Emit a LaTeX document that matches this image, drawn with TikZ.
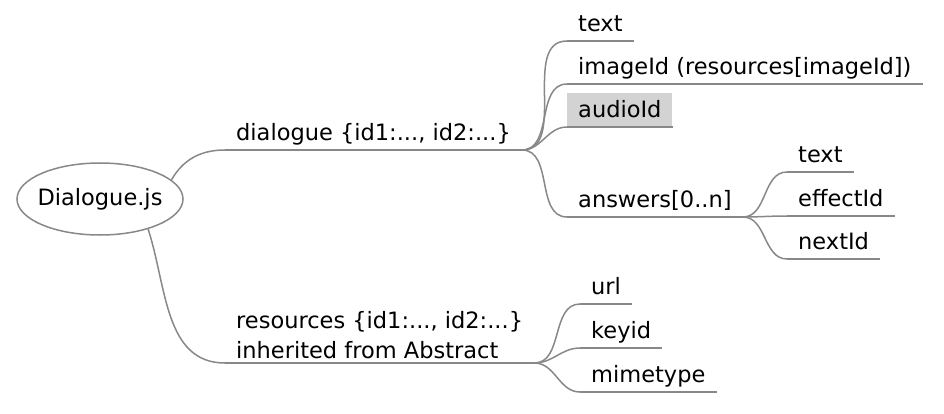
\documentclass[tikz,border=0pt]{standalone}
\usepackage{fontspec}
\setmainfont{DejaVu Sans}
\usetikzlibrary{shapes.geometric}
\definecolor{linegray}{HTML}{888888}
\definecolor{markgray}{HTML}{D3D3D3}
\tikzset{
  topic/.style={anchor=south west, inner xsep=11pt, inner ysep=4pt, text height=21pt, text depth=5pt},
  marked/.style={fill=markgray},
  link/.style={draw=linegray, line width=1.5pt},
}

\begin{document}
\begin{tikzpicture}[x=1pt, y=-1pt, font=\fontsize{22.5}{30}\selectfont]
				\useasboundingbox (0,0) rectangle (944,414);
				\node[ellipse, draw=linegray, line width=1.5pt, minimum width=166pt, minimum height=72pt, inner xsep=-4pt, inner ysep=0pt] (root) at (100,199) {Dialogue.js};
				
				\node[topic] (dlg) at (225,150) {dialogue \{id1:..., id2:...\}};
				\node[anchor=south west, inner xsep=11pt, inner ysep=4pt, align=left] (res) at (225,363) {resources \{id1:..., id2:...\} \\ inherited from Abstract};
				
				\node[topic] (txt) at (567,41) {text};
				\node[topic] (img) at (567,84) {imageId (resources[imageId])};
				\node[topic, marked] (aud) at (567,127) {audioId};
				\node[topic] (ans) at (567,217) {answers[0..n]};
				
				\node[topic] (atxt) at (787,172) {text};
				\node[topic] (eff) at (787,216) {effectId};
				\node[topic] (nxt) at (787,259) {nextId};
				
				\node[topic] (url) at (580,304) {url};
				\node[topic] (key) at (580,348) {keyid};
				\node[topic] (mime) at (580,392) {mimetype};
				
				\foreach \n in {dlg,res,txt,img,aud,ans,atxt,eff,nxt,url,key,mime}
				  \draw[link] (\n.south west) -- (\n.south east);
				
				\path[link]
				(root.15) edge [out=60, in=180] (dlg.south west)
				(root.-32) edge [out=-72, in=180] (res.south west)
				(dlg.south east) edge [out=0, in=180] (txt.south west)
				(dlg.south east) edge [out=0, in=180] (img.south west)
				(dlg.south east) edge [out=0, in=180] (aud.south west)
				(dlg.south east) edge [out=0, in=180] (ans.south west)
				(ans.south east) edge [out=0, in=180] (atxt.south west)
				(ans.south east) edge [out=0, in=180] (eff.south west)
				(ans.south east) edge [out=0, in=180] (nxt.south west)
				(res.south east) edge [out=0, in=180] (url.south west)
				(res.south east) edge [out=0, in=180] (key.south west)
				(res.south east) edge [out=0, in=180] (mime.south west)
				;
			\end{tikzpicture}
\end{document}
